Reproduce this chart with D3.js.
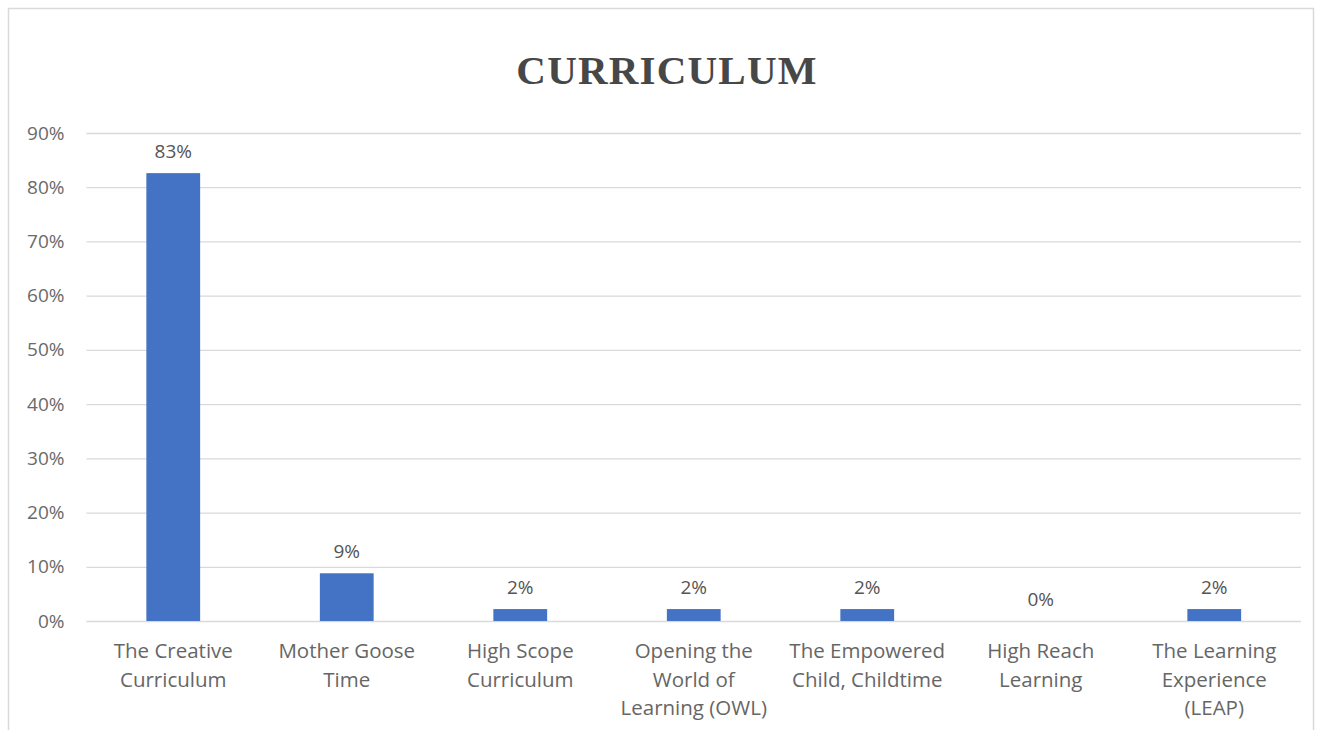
<!DOCTYPE html>
<html><head><meta charset="utf-8">
<script src="https://cdn.jsdelivr.net/npm/d3@7"></script>
<style>body{margin:0;background:#fff}svg{display:block}</style>
</head><body>
<script>
const categories = [
  ["The Creative","Curriculum"],
  ["Mother Goose","Time"],
  ["High Scope","Curriculum"],
  ["Opening the","World of","Learning (OWL)"],
  ["The Empowered","Child, Childtime"],
  ["High Reach","Learning"],
  ["The Learning","Experience","(LEAP)"]
];
const values = [82.6, 8.8, 2.2, 2.2, 2.2, 0, 2.2];
const valueLabels = ["83%","9%","2%","2%","2%","0%","2%"];
const yTicks = [0,10,20,30,40,50,60,70,80,90];
const title = "CURRICULUM";

const W = 1317, H = 730;
const svg = d3.select("body").append("svg").attr("width", W).attr("height", H);

svg.append("rect").attr("x", 8.5).attr("y", 8.5).attr("width", 1305).attr("height", 740)
  .attr("fill", "#fff").attr("stroke", "#d9d9d9").attr("stroke-width", 1.5);

const pLeft = 86.5, pRight = 1301, pTop = 133, pBottom = 621;
const x = d3.scaleBand().domain(d3.range(categories.length)).range([pLeft, pRight]).paddingInner(0.69).paddingOuter(0.345);
const y = d3.scaleLinear().domain([0, 90]).range([pBottom, pTop]);

svg.append("text").attr("x", 667).attr("y", 84).attr("text-anchor", "middle")
  .attr("font-family", "'Liberation Serif', serif").attr("font-weight", "bold")
  .attr("font-size", 41).attr("fill", "#474747").attr("letter-spacing", 1.2).text(title);

const yAxis = d3.axisLeft(y).tickValues(yTicks).tickFormat(d => d + "%").tickSize(-(pRight - pLeft)).tickPadding(22);
const gy = svg.append("g").attr("transform", `translate(${pLeft},0)`).call(yAxis);
gy.select(".domain").remove();
gy.selectAll(".tick line").attr("stroke", "#d9d9d9").attr("stroke-width", 1.3);
gy.selectAll(".tick text").attr("font-family", "'Open Sans', sans-serif").attr("font-size", 19).attr("fill", "#6a6a6a");

svg.append("g").selectAll("rect").data(values).join("rect")
  .attr("x", (d, i) => x(i)).attr("width", x.bandwidth())
  .attr("y", d => y(d)).attr("height", d => pBottom - y(d))
  .attr("fill", "#4472c4");

svg.append("g").selectAll("text").data(values).join("text")
  .attr("x", (d, i) => x(i) + x.bandwidth() / 2).attr("y", d => y(d) - 15)
  .attr("text-anchor", "middle").attr("font-family", "'Open Sans', sans-serif")
  .attr("font-size", 19).attr("fill", "#555").text((d, i) => valueLabels[i]);

const xl = svg.append("g").selectAll("text").data(categories).join("text")
  .attr("text-anchor", "middle").attr("font-family", "'Open Sans', sans-serif")
  .attr("font-size", 20.5).attr("fill", "#666")
  .attr("transform", (d, i) => `translate(${x(i) + x.bandwidth() / 2},658)`);
xl.selectAll("tspan").data(d => d).join("tspan")
  .attr("x", 0).attr("dy", (d, j) => j === 0 ? 0 : 28.5).text(d => d);
</script>
</body></html>
